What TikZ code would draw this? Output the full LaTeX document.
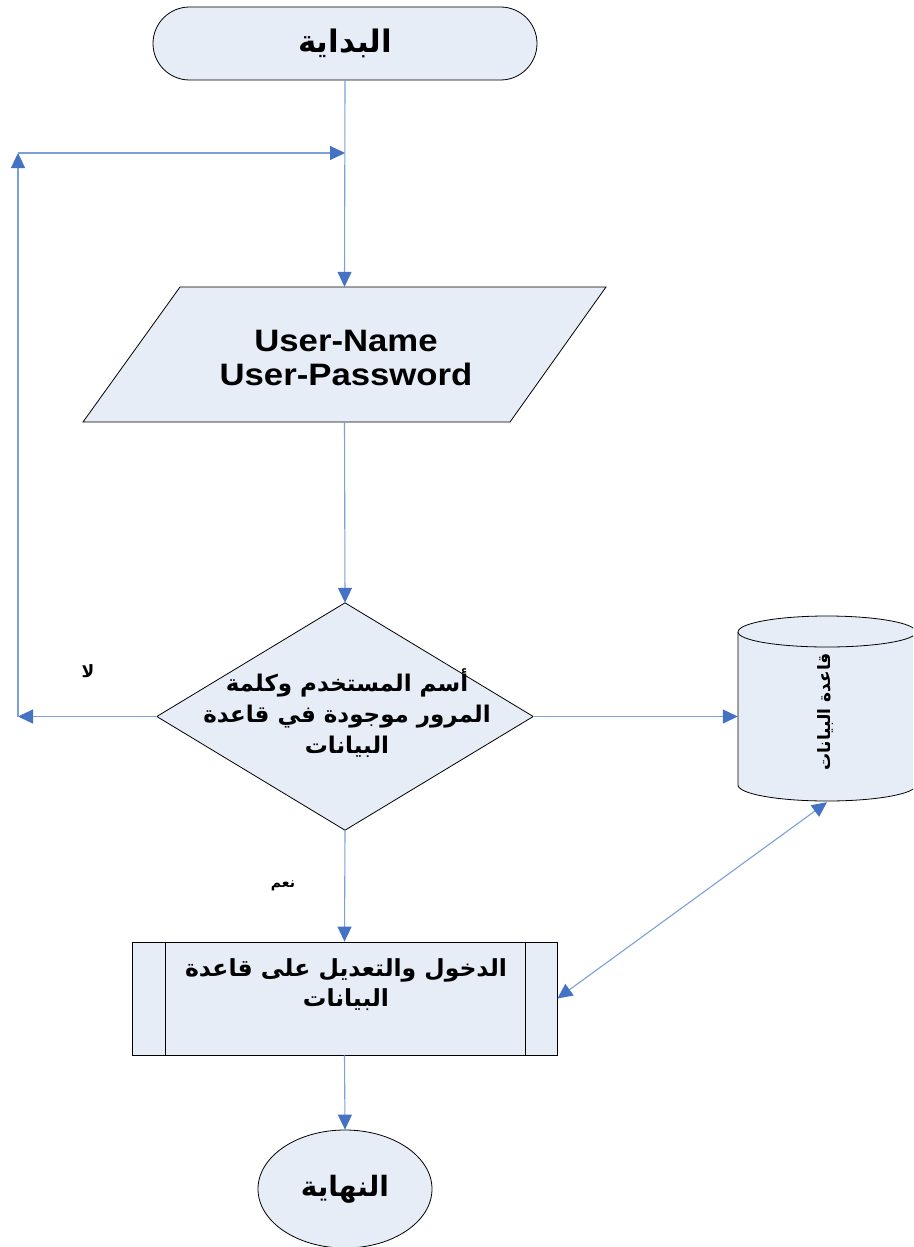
\documentclass[tikz,border=0pt]{standalone}
\usepackage{fontspec}
\usetikzlibrary{arrows.meta,shapes.misc,shapes.geometric}
\TeXXeTstate=1
\newfontfamily\arfont[Script=Arabic]{DejaVu Sans}
\newfontfamily\latfont{Liberation Sans}
\definecolor{shapefill}{RGB}{230,237,247}
\definecolor{linkblue}{RGB}{125,160,218}
\definecolor{headblue}{RGB}{68,114,196}
\newcommand{\AR}[1]{\beginR #1\endR}
\tikzset{
  outline/.style={draw=black, line width=0.8pt, fill=shapefill},
  link/.style={draw=linkblue, line width=1.1pt, -{Triangle[length=15pt,width=14pt,color=headblue]}},
  dlink/.style={draw=linkblue, line width=1.1pt, {Triangle[length=15pt,width=14pt,color=headblue]}-{Triangle[length=15pt,width=14pt,color=headblue]}},
  frame/.style={draw=none, inner sep=0pt},
  artext/.style={font=\arfont\bfseries, align=center, inner sep=0pt},
}
\begin{document}
\begin{tikzpicture}[x=1pt,y=-1pt]
\useasboundingbox (0,0) rectangle (913,1247);
\clip (0,0) rectangle (913,1247);
\fill[white] (0,0) rectangle (913,1247);

% start terminator
\node[rounded rectangle, outline, minimum width=384pt, minimum height=73pt, inner sep=0pt,
      font=\arfont\bfseries\fontsize{31}{34}\selectfont] (start) at (345,43.5) {\AR{البداية}};

% input parallelogram
\node[frame, minimum width=523pt, minimum height=135pt] (input) at (344.5,354.5) {};
\draw[outline] (180,287) -- (606,287) -- (510,422) -- (83,422) -- cycle;
\node[font=\latfont\bfseries\fontsize{31}{34}\selectfont, align=center, inner sep=0pt] (inputtext) at (346,358)
  {\scalebox{1.12}[1]{User-Name}\\\scalebox{1.12}[1]{User-Password}};

% decision diamond
\node[frame, minimum width=376pt, minimum height=227pt] (dec) at (345,716.5) {};
\draw[outline] (dec.north) -- (dec.east) -- (dec.south) -- (dec.west) -- cycle;
\node[artext, font=\arfont\bfseries\fontsize{23}{31}\selectfont] (dectext) at (347,713)
  {\AR{أسم المستخدم وكلمة}\\\AR{المرور موجودة في قاعدة}\\\AR{البيانات}};

% database cylinder
\node[frame, minimum width=178pt, minimum height=186pt] (db) at (827,709) {};
\draw[outline] (738,632) -- (738,785) arc[start angle=180, end angle=360, x radius=89pt, y radius=16pt]
  -- (916,632) arc[start angle=0, end angle=180, x radius=89pt, y radius=16pt] -- cycle;
\draw[black, line width=0.8pt] (738,632) arc[start angle=180, end angle=360, x radius=89pt, y radius=15pt];
\node[artext, rotate=90, font=\arfont\bfseries\fontsize{17}{20}\selectfont] (dbtext) at (826,712) {\AR{قاعدة البيانات}};

% predefined process
\node[rectangle, outline, minimum width=425pt, minimum height=113pt, inner sep=0pt] (proc) at (344.5,998.5) {};
\draw[black, line width=0.8pt] (165,942) -- (165,1055) (525,942) -- (525,1055);
\node[artext, font=\arfont\bfseries\fontsize{23.5}{30}\selectfont] (proctext) at (346,985)
  {\AR{الدخول والتعديل على قاعدة}\\\AR{البيانات}};

% end terminator
\node[ellipse, outline, minimum width=174pt, minimum height=118pt, inner sep=0pt,
      font=\arfont\bfseries\fontsize{28}{32}\selectfont] (end) at (345,1189) {\AR{النهاية}};

% labels
\node[artext, font=\arfont\bfseries\fontsize{17}{20}\selectfont] (nolab) at (88,671) {\AR{لا}};
\node[artext, font=\arfont\bfseries\fontsize{14}{18}\selectfont] (yeslab) at (283,886) {\AR{نعم}};

% loop coordinates
\coordinate (loopA) at (18,716.5);
\coordinate (loopB) at (18,153);
\coordinate (loopC) at (345,153);

% connectors
\draw[link] (start.south) -- (input.north);
\draw[link] (input.south) -- (dec.north);
\draw[link] (dec.west) -- (loopA);
\draw[link] (loopA) -- (loopB);
\draw[link] (loopB) -- (loopC);
\draw[link] (dec.east) -- (dec.east -| db.west);
\draw[link] (dec.south) -- (proc.north);
\draw[dlink] (db.south) -- (proc.east);
\draw[link] (proc.south) -- (end.north);
\end{tikzpicture}
\end{document}
